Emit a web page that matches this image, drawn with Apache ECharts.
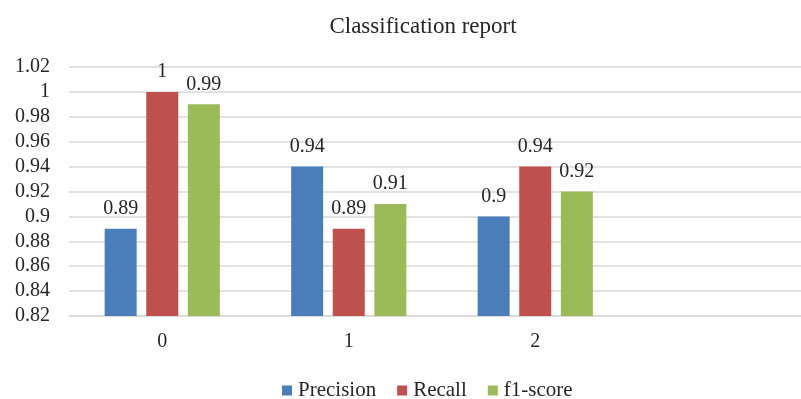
<!DOCTYPE html>
<html>
<head>
<meta charset="utf-8">
<script src="https://cdn.jsdelivr.net/npm/echarts@6/dist/echarts.min.js"></script>
<style>html,body{margin:0;padding:0;background:#fff;overflow:hidden}#c{width:801px;height:399px}</style>
</head>
<body>
<div id="c"></div>
<script>
const categories = ['0', '1', '2', ''];
const precision = [0.89, 0.94, 0.90];
const recall = [1, 0.89, 0.94];
const f1score = [0.99, 0.91, 0.92];
const yTicks = [0.82, 0.84, 0.86, 0.88, 0.9, 0.92, 0.94, 0.96, 0.98, 1, 1.02];

const FONT = 'Liberation Serif';
const chart = echarts.init(document.getElementById('c'), null, {renderer: 'canvas'});
const lbl = {show: true, position: 'top', distance: 10, fontFamily: FONT, fontSize: 20, color: '#262626',
  formatter: p => String(+p.value.toFixed(2))};
function series(name, data, color) {
  return {name, type: 'bar', data, barWidth: 32, barGap: '30%',
    itemStyle: {color}, label: lbl, emphasis: {disabled: true}};
}
chart.setOption({
  animation: false,
  title: {text: 'Classification report', left: 418, textAlign: 'center', top: 10,
    textStyle: {fontFamily: FONT, fontSize: 23, fontWeight: 'normal', color: '#262626'}},
  legend: {left: 277, top: 375, itemWidth: 10, itemHeight: 10, itemGap: 21,
    icon: 'rect',
    textStyle: {fontFamily: FONT, fontSize: 21, color: '#262626', padding: [0, 0, 0, 1]},
    data: ['Precision', 'Recall', 'f1-score']},
  grid: {left: 69, width: 746, top: 67, bottom: 83, containLabel: false, outerBoundsMode: 'none'},
  xAxis: {type: 'category', data: categories,
    axisLine: {lineStyle: {color: '#d9d9d9', width: 1.5}},
    axisTick: {show: false},
    axisLabel: {margin: 16, fontFamily: FONT, fontSize: 20, color: '#262626'}},
  yAxis: {type: 'value', min: 0.82, max: 1.02, interval: 0.02,
    axisLine: {show: false}, axisTick: {show: false},
    splitLine: {lineStyle: {color: '#d9d9d9', width: 1.5}},
    axisLabel: {margin: 19, fontFamily: FONT, fontSize: 20, color: '#262626',
      formatter: v => {const t = yTicks.find(x => Math.abs(x - v) < 1e-6); return t === undefined ? '' : String(t);}}},
  series: [
    series('Precision', precision, '#4a7ebb'),
    series('Recall', recall, '#c0504d'),
    series('f1-score', f1score, '#9bbb59')
  ]
});
</script>
</body>
</html>
